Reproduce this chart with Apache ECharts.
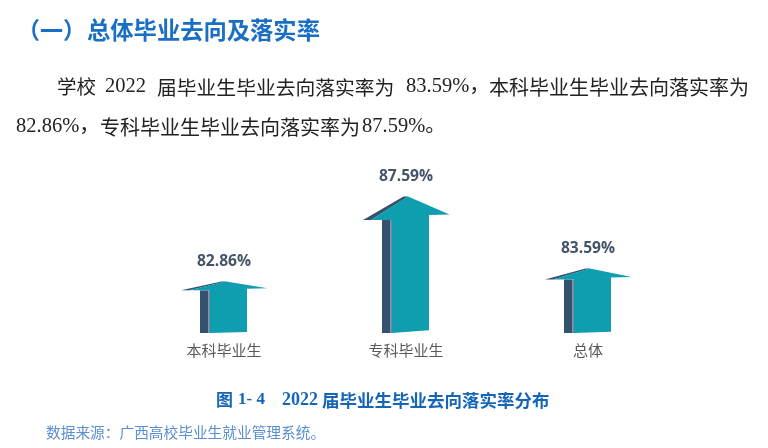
<!DOCTYPE html>
<html><head><meta charset="utf-8">
<style>html,body{margin:0;padding:0;background:#fff}#c{width:768px;height:448px}</style>
<script src="https://cdn.jsdelivr.net/npm/echarts@6/dist/echarts.min.js"></script>
</head><body><div id="c"></div>
<script>
const categories = ['本科毕业生', '专科毕业生', '总体'];
const rates = [82.86, 87.59, 83.59];
const axisFloor = 80;
const axisCeil = 90;
const heading = ['（一）', '总体毕业去向及落实率'];
const line1 = ['学校', '2022', '届毕业生毕业去向落实率为', '83.59%，', '本科毕业生毕业去向落实率为'];
const line2 = ['82.86%，', '专科毕业生毕业去向落实率为', '87.59%。'];
const caption = ['图', '1- 4', '2022', '届毕业生毕业去向落实率分布'];
const sourceNote = '数据来源：广西高校毕业生就业管理系统。';

const TEAL = '#0f9db0', DARK = '#34516d', STRIPE = '#6f86a2';
const CJK = '"Noto Sans CJK SC"';
const SERIF = '"Liberation Serif","Noto Sans CJK SC"';

function txt(text, x, y, font, fill, weight, size) {
  return { type: 'text', x: x, y: y, silent: true,
    style: { text: text, fontFamily: font, fontSize: size, fontWeight: weight, fill: fill,
      textVerticalAlign: 'middle', verticalAlign: 'middle' } };
}
const BODY = '#222222', BLUE = '#1a6fc4', CAP = '#1566b7';
const texts = [
  txt(heading[0], 17, 30, CJK, BLUE, 700, 23),
  txt(heading[1], 87, 30, CJK, BLUE, 700, 23.3),
  txt(line1[0], 57, 87, CJK, BODY, 400, 19.5),
  txt(line1[1], 105, 87, SERIF, BODY, 400, 20.5),
  txt(line1[2], 157, 87, CJK, BODY, 400, 19.8),
  txt(line1[3], 406, 87, SERIF, BODY, 400, 20.5),
  txt(line1[4], 489, 87, CJK, BODY, 400, 20),
  txt(line2[0], 16, 127, SERIF, BODY, 400, 20.5),
  txt(line2[1], 100, 127, CJK, BODY, 400, 20),
  txt(line2[2], 362, 127, SERIF, BODY, 400, 20.5),
  txt(caption[0], 216, 400, CJK, CAP, 700, 17),
  txt(caption[1], 238, 400, SERIF, CAP, 700, 17),
  txt(caption[2], 282, 400, SERIF, CAP, 700, 18),
  txt(caption[3], 322, 400, CJK, CAP, 700, 17.5),
  txt(sourceNote, 46, 432, CJK, '#5b8fcf', 400, 14.7)
];

function renderArrow(params, api) {
  const idx = api.value(0);
  const top = api.coord([idx, api.value(1)]);
  const base = api.coord([idx, axisFloor]);
  const band = api.size([1, 0])[0];
  const cx = top[0], ty = top[1], by = base[1];
  const h = by - ty;
  const u = band / 182;
  const leftTipY = ty + 0.172 * h;
  const rightTipY = ty + 0.132 * h;
  const sL = cx - 24 * u, sM = cx - 15.5 * u, sM2 = cx - 14 * u, sR = cx + 23 * u;
  const tipL = cx - 43 * u, tipR = cx + 43.5 * u, tealTipL = cx - 35 * u;
  const apexD = cx - 2.5 * u, apexT = cx + 2 * u;
  const poly = (pts, fill) => ({ type: 'polygon', shape: { points: pts }, style: { fill: fill } });
  return { type: 'group', children: [
    poly([[sL, leftTipY], [sM, leftTipY], [sM, by], [sL, by]], DARK),
    poly([[sM, leftTipY], [sM2, leftTipY], [sM2, by], [sM, by]], STRIPE),
    poly([[sM2, leftTipY - 1], [sR, rightTipY], [sR, by - 0.02 * h], [sM2, by]], TEAL),
    poly([[tipL, leftTipY], [apexD, ty], [apexT, ty], [tealTipL, leftTipY]], DARK),
    poly([[tealTipL, leftTipY], [apexT - 0.5 * u, ty], [cx + 2 * u, ty], [tipR, rightTipY], [sR, rightTipY + 0.5], [sM2, leftTipY]], TEAL),
    { type: 'text', x: cx, y: ty - 20, silent: true, style: {
        text: api.value(1).toFixed(2) + '%', fontFamily: '"Open Sans"', fontSize: 15.6, fontWeight: 700,
        fill: '#44546a', align: 'center', verticalAlign: 'middle' } }
  ]};
}

const chart = echarts.init(document.getElementById('c'), null, { renderer: 'canvas' });
chart.setOption({
  animation: false,
  backgroundColor: '#fff',
  grid: { left: 133, right: 89, top: 153, bottom: 115 },
  xAxis: { type: 'category', data: categories, axisLine: { show: false }, axisTick: { show: false },
    axisLabel: { color: '#595959', fontSize: 15, fontFamily: CJK, margin: 10 } },
  yAxis: { type: 'value', min: axisFloor, max: axisCeil, show: false, splitLine: { show: false } },
  series: [{ type: 'custom', renderItem: renderArrow, data: rates.map((v, i) => [i, v]),
    encode: { x: 0, y: 1 }, clip: false }],
  graphic: { elements: texts }
});
</script></body></html>
